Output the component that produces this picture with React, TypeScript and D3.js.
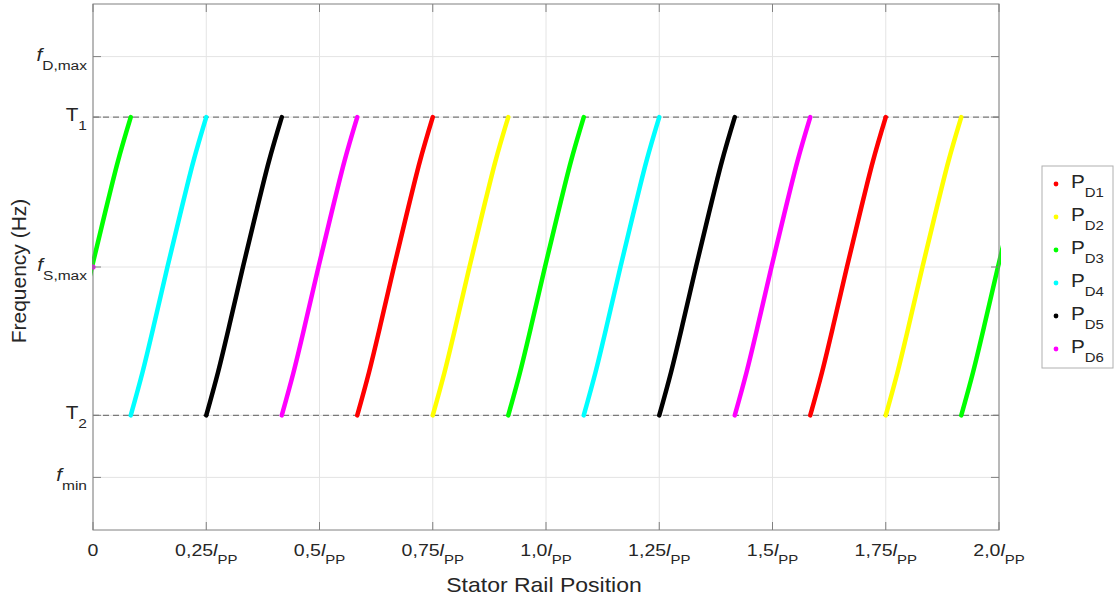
import React from 'react';
import * as d3 from 'd3';

const width = 1115;
const height = 603;
const margin = { top: 4, right: 116, bottom: 73, left: 93 };

// phases shown in the legend
const phaseNames = ['D1', 'D2', 'D3', 'D4', 'D5', 'D6'];
const phaseColors = ['#ff0000', '#ffff00', '#00ff00', '#00ffff', '#000000', '#ff00ff'];

// one sweep from T2 up to T1 (offset in lPP, frequency)
const sweepOffset = [0, 0.026, 0.054, 0.081, 0.109, 0.138, 0.1667];
const sweepFreq = [0.218, 0.3, 0.4, 0.5, 0.6, 0.7, 0.785];

// start position of each sweep and the phase that draws it
const sweepStarts = [-0.0833, 0.0833, 0.25, 0.4167, 0.5833, 0.75, 0.9167, 1.0833, 1.25, 1.4167, 1.5833, 1.75, 1.9167];
const sweepPhase = [2, 3, 4, 5, 0, 1, 2, 3, 4, 5, 0, 1, 2];

// lone marker at the origin
const dotX = [0];
const dotFreq = [0.5];
const dotPhase = [5];

const xTickValues = [0, 0.25, 0.5, 0.75, 1.0, 1.25, 1.5, 1.75, 2.0];
const xTickLabels = ['0', '0,25', '0,5', '0,75', '1,0', '1,25', '1,5', '1,75', '2,0'];

const yTickValues = [0.1, 0.218, 0.5, 0.785, 0.9];
const yTickMain = ['f', 'T', 'f', 'T', 'f'];
const yTickSub = ['min', '2', 'S,max', '1', 'D,max'];

const thresholds = [0.218, 0.785];

const font = '"Liberation Sans", Arial, Helvetica, sans-serif';
const textColor = '#262626';
const axisColor = '#808080';
const gridColor = '#e4e4e4';
const stretch = 1.15;

export default function App() {
  const x0 = margin.left;
  const x1 = width - margin.right;
  const y0 = height - margin.bottom;
  const y1 = margin.top;

  const xScale = d3.scaleLinear().domain([0, 2]).range([x0, x1]);
  const yScale = d3.scaleLinear().domain([0, 1]).range([y0, y1]);

  const line = d3.line<[number, number]>()
    .x(d => xScale(d[0]))
    .y(d => yScale(d[1]))
    .curve(d3.curveMonotoneX);

  const sweeps = sweepStarts.map((s, i) => ({
    color: phaseColors[sweepPhase[i]],
    d: line(sweepOffset.map((o, j) => [s + o, sweepFreq[j]] as [number, number])) || ''
  }));

  const tick = 8;

  return (
    <svg width={width} height={height} style={{ position: 'absolute', left: 0, top: 0, background: '#fff' }}>
      <defs>
        <clipPath id="plotClip">
          <rect x={x0 - 1} y={y1} width={x1 - x0 + 3} height={y0 - y1} />
        </clipPath>
      </defs>

      {/* grid */}
      {xTickValues.map((v, i) => (
        <line key={'gx' + i} x1={xScale(v)} x2={xScale(v)} y1={y1} y2={y0} stroke={gridColor} strokeWidth={1} />
      ))}
      {yTickValues.map((v, i) => (
        <line key={'gy' + i} x1={x0} x2={x1} y1={yScale(v)} y2={yScale(v)} stroke={gridColor} strokeWidth={1} />
      ))}

      {/* T1 / T2 dashed thresholds */}
      {thresholds.map((v, i) => (
        <line key={'th' + i} x1={x0} x2={x1} y1={yScale(v)} y2={yScale(v)}
          stroke="#7a7a7a" strokeWidth={1.3} strokeDasharray="6 4" />
      ))}

      <g clipPath="url(#plotClip)">
        {sweeps.map((s, i) => (
          <path key={'sw' + i} d={s.d} fill="none" stroke={s.color} strokeWidth={4.5} strokeLinecap="round" />
        ))}
        {dotX.map((v, i) => (
          <circle key={'dot' + i} cx={xScale(v)} cy={yScale(dotFreq[i])} r={2.6} fill={phaseColors[dotPhase[i]]} />
        ))}
      </g>

      {/* axes box and inside ticks */}
      <rect x={x0} y={y1} width={x1 - x0} height={y0 - y1} fill="none" stroke={axisColor} strokeWidth={1} />
      {xTickValues.map((v, i) => (
        <g key={'tx' + i} stroke={axisColor}>
          <line x1={xScale(v)} x2={xScale(v)} y1={y0} y2={y0 - tick} />
          <line x1={xScale(v)} x2={xScale(v)} y1={y1} y2={y1 + tick} />
        </g>
      ))}
      {yTickValues.map((v, i) => (
        <g key={'ty' + i} stroke={axisColor}>
          <line x1={x0} x2={x0 + tick} y1={yScale(v)} y2={yScale(v)} />
          <line x1={x1} x2={x1 - tick} y1={yScale(v)} y2={yScale(v)} />
        </g>
      ))}

      {/* x tick labels */}
      {xTickValues.map((v, i) => (
        <g key={'lx' + i} transform={`translate(${xScale(v)},556) scale(${stretch},1)`}>
          <text textAnchor="middle" fontFamily={font} fontSize={17} fill={textColor}>
            {xTickLabels[i]}
            {i > 0 && <tspan fontStyle="italic">l</tspan>}
            {i > 0 && <tspan fontSize={13} dy={7.5}>PP</tspan>}
          </text>
        </g>
      ))}

      {/* y tick labels */}
      {yTickValues.map((v, i) => (
        <g key={'ly' + i} transform={`translate(87,${yScale(v) + 4}) scale(${stretch},1)`}>
          <text textAnchor="end" fontFamily={font} fontSize={18} fill={textColor}>
            <tspan fontStyle={yTickMain[i] === 'f' ? 'italic' : 'normal'}>{yTickMain[i]}</tspan>
            <tspan fontSize={13.5} dy={9}>{yTickSub[i]}</tspan>
          </text>
        </g>
      ))}

      {/* axis titles */}
      <g transform={`translate(544,592) scale(${stretch},1)`}>
        <text textAnchor="middle" fontFamily={font} fontSize={20} fill={textColor}>Stator Rail Position</text>
      </g>
      <text transform="translate(26,271) rotate(-90)" textAnchor="middle" fontFamily={font} fontSize={21} fill={textColor}>
        Frequency (Hz)
      </text>

      {/* legend */}
      <rect x={1042} y={166} width={71} height={202} fill="#fff" stroke="#b0b0b0" strokeWidth={1} />
      {phaseNames.map((n, i) => {
        const cy = 184 + i * 33;
        return (
          <g key={'lg' + i}>
            <circle cx={1056} cy={cy} r={2.4} fill={phaseColors[i]} />
            <g transform={`translate(1071,${cy + 4}) scale(${stretch},1)`}>
              <text fontFamily={font} fontSize={18} fill={textColor}>
                P<tspan fontSize={13} dy={9}>{n}</tspan>
              </text>
            </g>
          </g>
        );
      })}
    </svg>
  );
}
